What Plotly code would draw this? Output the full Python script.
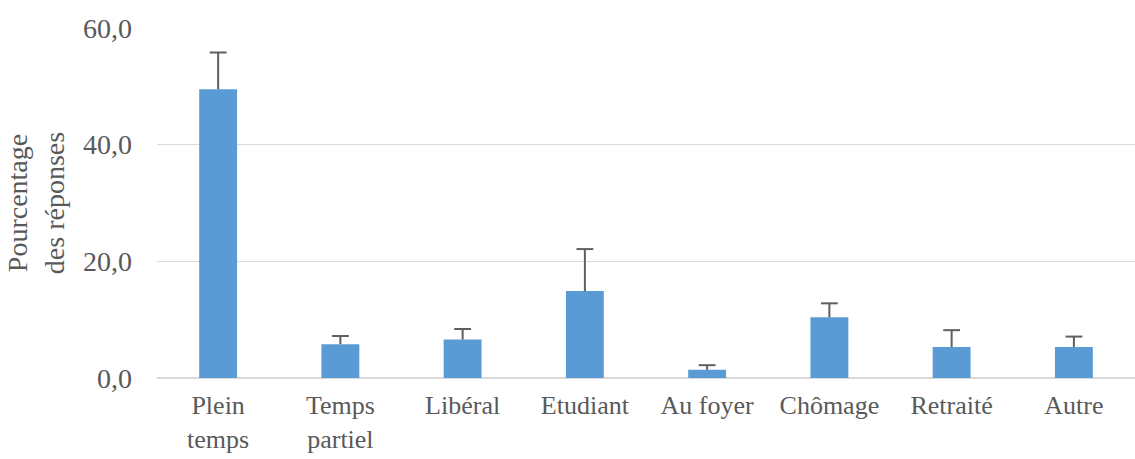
import plotly.graph_objects as go

categories = ["Plein<br>temps", "Temps<br>partiel", "Libéral", "Etudiant", "Au foyer", "Chômage", "Retraité", "Autre"]
values = [49.5, 5.8, 6.6, 14.9, 1.4, 10.4, 5.3, 5.3]
errors = [6.3, 1.4, 1.8, 7.2, 0.8, 2.4, 2.9, 1.8]
y_ticks = [0, 20, 40, 60]
y_tick_labels = ["0,0", "20,0", "40,0", "60,0"]

font_family = "Times New Roman, Liberation Serif, DejaVu Serif, serif"
grey = "#595959"
err_color = "#5F5F5F"

fig = go.Figure()
fig.add_trace(go.Bar(
    x=categories,
    y=values,
    marker=dict(color="#5B9BD5", line=dict(width=0)),
    hoverinfo="skip",
))

ex, ey = [], []
for c, v, e in zip(categories, values, errors):
    ex += [c, c, None]
    ey += [v, v + e, None]
fig.add_trace(go.Scatter(x=ex, y=ey, mode="lines", line=dict(color=err_color, width=2), hoverinfo="skip"))
fig.add_trace(go.Scatter(
    x=categories, y=[v + e for v, e in zip(values, errors)], mode="markers",
    marker=dict(symbol="line-ew", size=12, line=dict(color=err_color, width=2)),
    hoverinfo="skip",
))

fig.update_layout(
    width=1135, height=459,
    margin=dict(l=157, r=0, t=28, b=81),
    paper_bgcolor="white", plot_bgcolor="white",
    bargap=0.69,
    showlegend=False,
    font=dict(family=font_family, size=26, color=grey),
)
fig.update_xaxes(
    showgrid=False, showline=False, ticks="", automargin=False,
    ticklabelstandoff=9,
    tickfont=dict(family=font_family, size=26, color=grey),
)
fig.update_yaxes(
    range=[0, 60], tickvals=y_ticks, ticktext=y_tick_labels,
    showgrid=True, gridcolor="#D9D9D9", gridwidth=1,
    zeroline=True, zerolinecolor="#D9D9D9", zerolinewidth=2,
    showline=False, ticks="", automargin=False,
    ticklabelstandoff=24,
    tickfont=dict(family=font_family, size=28, color=grey),
    title=dict(text="Pourcentage<br>des réponses", font=dict(family=font_family, size=28, color=grey), standoff=10),
)

fig.write_html("out.html", config={"displayModeBar": False},
               post_script="document.body.style.margin='0';")
